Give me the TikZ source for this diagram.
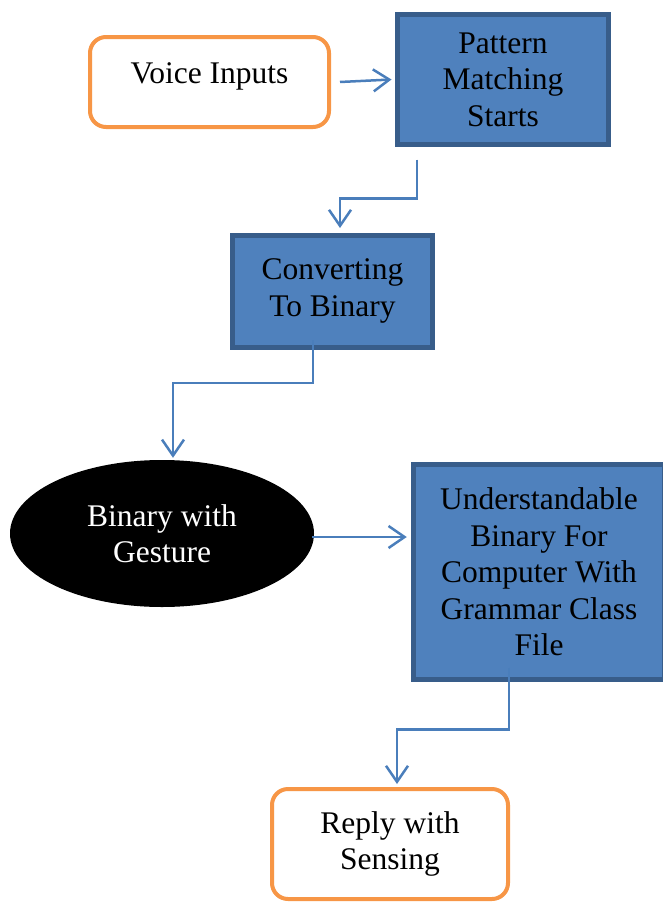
\documentclass[tikz,border=0pt]{standalone}
\usepackage{fontspec}
\setmainfont{Liberation Serif}
\usetikzlibrary{arrows.meta,shapes.geometric}
\definecolor{boxorange}{HTML}{F79646}
\definecolor{boxblue}{HTML}{4F81BD}
\definecolor{boxedge}{HTML}{385D8A}
\definecolor{linkblue}{HTML}{4A7EBB}

\begin{document}
\begin{tikzpicture}[x=1pt,y=-1pt,
    every node/.style={font=\rmfamily\fontsize{31.5}{36.5}\selectfont, align=center, inner sep=0pt},
    roundbox/.style={draw=boxorange, line width=4pt, rounded corners=16pt, fill=white},
    bluebox/.style={draw=boxedge, fill=boxblue, line width=5pt},
    oval/.style={ellipse, fill=black, text=white},
    link/.style={draw=linkblue, line width=2.5pt, -{Straight Barb[length=16pt,width=22pt]}}]
  \useasboundingbox (0,0) rectangle (662,902);

  \node[roundbox, minimum width=239pt, minimum height=90pt, text height=21pt, text depth=19pt] (voice) at (209.5,82) {Voice Inputs};
  \node[bluebox, minimum width=211pt, minimum height=130pt] (pat) at (503,79.5) {Pattern\\Matching\\Starts};
  \node[bluebox, minimum width=200pt, minimum height=112pt] (conv) at (332.5,291) {Converting\\To Binary};
  \node[oval, minimum width=304pt, minimum height=147pt] (gest) at (162,533.5) {Binary with\\Gesture};
  \node[bluebox, minimum width=251.5pt, minimum height=215pt] (und) at (539,572) {Understandable\\Binary For\\Computer With\\Grammar Class\\File};
  \node[roundbox, minimum width=236pt, minimum height=110pt] (reply) at (390,844) {Reply with\\Sensing};

  \coordinate (gestout) at ([xshift=-2pt,yshift=-3.5pt]gest.east);

  \draw[link] ([xshift=9pt]voice.east) -- ([xshift=-3.5pt]pat.west);
  \draw[link] ([xshift=-86pt,yshift=-12.5pt]pat.south) -- ++(0,39) -| ([xshift=7.5pt,yshift=4.5pt]conv.north);
  \draw[link] ([xshift=-19.5pt,yshift=9.5pt]conv.south) -- ++(0,43) -| ([xshift=11pt,yshift=2pt]gest.north);
  \draw[link, shorten >=4pt] (gestout) -- (gestout -| und.west);
  \draw[link] ([xshift=-30pt,yshift=14.5pt]und.south) -- ++(0,62) -| ([xshift=7pt,yshift=3pt]reply.north);
\end{tikzpicture}
\end{document}
